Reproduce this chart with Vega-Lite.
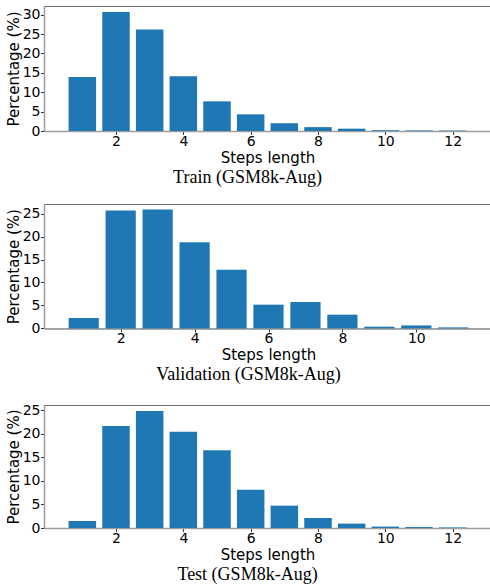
{
  "$schema": "https://vega.github.io/schema/vega-lite/v6.json",
  "padding": {"left": 5, "top": 5, "right": 0, "bottom": 0},
  "background": "white",
  "config": {
    "view": {"stroke": "#6e6e6e", "strokeWidth": 1},
    "font": "DejaVu Sans",
    "axis": {
      "grid": false,
      "labelFont": "DejaVu Sans",
      "labelFontSize": 14,
      "labelColor": "black",
      "titleFont": "DejaVu Sans",
      "titleFontSize": 15,
      "titleFontWeight": "normal",
      "titleColor": "black",
      "tickColor": "#333",
      "tickSize": 3.5,
      "labelPadding": 2,
      "domainColor": "#9e9e9e",
      "domainWidth": 1.5
    },
    "axisY": {"titlePadding": 1, "labelPadding": 0.5, "labelFlush": false},
    "axisX": {"titlePadding": 2, "labelPadding": 0, "labelFlush": false},
    "title": {"font": "Liberation Serif", "fontSize": 18, "fontWeight": "normal", "color": "black", "orient": "bottom", "anchor": "middle", "dx": -20, "offset": 3},
    "bar": {"color": "#1f77b4"}
  },
  "vconcat": [
    {
      "spacing": 16,
      "vconcat": [
        {
          "title": {"text": "Train (GSM8k-Aug)"},
          "width": 447,
          "height": 125,
          "data": {"values": [
            {"steps": 1, "pct": 13.9}, {"steps": 2, "pct": 30.7}, {"steps": 3, "pct": 26.2},
            {"steps": 4, "pct": 14.1}, {"steps": 5, "pct": 7.65}, {"steps": 6, "pct": 4.3},
            {"steps": 7, "pct": 2.0}, {"steps": 8, "pct": 1.0}, {"steps": 9, "pct": 0.6},
            {"steps": 10, "pct": 0.2}, {"steps": 11, "pct": 0.15}, {"steps": 12, "pct": 0.12}
          ]},
          "mark": {"type": "bar", "width": 27.5},
          "encoding": {
            "x": {"field": "steps", "type": "quantitative", "title": "Steps length",
                  "scale": {"domain": [0.01, 12.99], "nice": false, "zero": false},
                  "axis": {"values": [2, 4, 6, 8, 10, 12]}},
            "y": {"field": "pct", "type": "quantitative", "title": "Percentage (%)",
                  "scale": {"domain": [0, 32.24], "nice": false},
                  "axis": {"values": [0, 5, 10, 15, 20, 25, 30]}}
          }
        },
        {
          "title": {"text": "Validation (GSM8k-Aug)"},
          "width": 449,
          "height": 124.4,
          "data": {"values": [
            {"steps": 1, "pct": 2.27}, {"steps": 2, "pct": 25.66}, {"steps": 3, "pct": 25.88},
            {"steps": 4, "pct": 18.75}, {"steps": 5, "pct": 12.8}, {"steps": 6, "pct": 5.17},
            {"steps": 7, "pct": 5.75}, {"steps": 8, "pct": 2.99}, {"steps": 9, "pct": 0.37},
            {"steps": 10, "pct": 0.65}, {"steps": 11, "pct": 0.22}
          ]},
          "mark": {"type": "bar", "width": 30.2},
          "encoding": {
            "x": {"field": "steps", "type": "quantitative", "title": "Steps length",
                  "scale": {"domain": [0.06, 11.94], "nice": false, "zero": false},
                  "axis": {"values": [2, 4, 6, 8, 10]}},
            "y": {"field": "pct", "type": "quantitative", "title": "Percentage (%)",
                  "scale": {"domain": [0, 27.1], "nice": false},
                  "axis": {"values": [0, 5, 10, 15, 20, 25]}}
          }
        }
      ]
    },
    {
      "title": {"text": "Test (GSM8k-Aug)"},
      "width": 447,
      "height": 123,
      "data": {"values": [
        {"steps": 1, "pct": 1.48}, {"steps": 2, "pct": 21.6}, {"steps": 3, "pct": 24.8},
        {"steps": 4, "pct": 20.4}, {"steps": 5, "pct": 16.46}, {"steps": 6, "pct": 8.13},
        {"steps": 7, "pct": 4.74}, {"steps": 8, "pct": 2.12}, {"steps": 9, "pct": 0.93},
        {"steps": 10, "pct": 0.3}, {"steps": 11, "pct": 0.2}, {"steps": 12, "pct": 0.12}
      ]},
      "mark": {"type": "bar", "width": 27.5},
      "encoding": {
        "x": {"field": "steps", "type": "quantitative", "title": "Steps length",
              "scale": {"domain": [0.01, 12.99], "nice": false, "zero": false},
              "axis": {"values": [2, 4, 6, 8, 10, 12]}},
        "y": {"field": "pct", "type": "quantitative", "title": "Percentage (%)",
              "scale": {"domain": [0, 26.06], "nice": false},
              "axis": {"values": [0, 5, 10, 15, 20, 25]}}
      }
    }
  ],
  "spacing": 17
}
